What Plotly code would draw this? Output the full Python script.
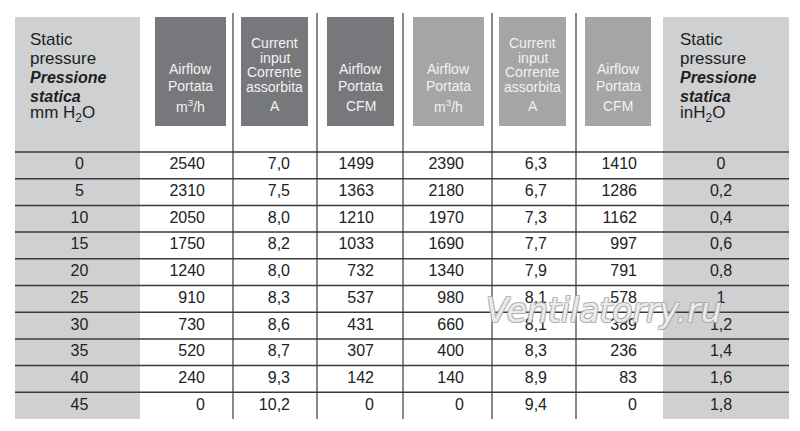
import plotly.graph_objects as go

# Data
pressure_mm = [0, 5, 10, 15, 20, 25, 30, 35, 40, 45]
airflow_m3h_a = [2540, 2310, 2050, 1750, 1240, 910, 730, 520, 240, 0]
current_a = [7.0, 7.5, 8.0, 8.2, 8.0, 8.3, 8.6, 8.7, 9.3, 10.2]
cfm_a = [1499, 1363, 1210, 1033, 732, 537, 431, 307, 142, 0]
airflow_m3h_b = [2390, 2180, 1970, 1690, 1340, 980, 660, 400, 140, 0]
current_b = [6.3, 6.7, 7.3, 7.7, 7.9, 8.1, 8.1, 8.3, 8.9, 9.4]
cfm_b = [1410, 1286, 1162, 997, 791, 578, 389, 236, 83, 0]
pressure_in = [0, 0.2, 0.4, 0.6, 0.8, 1, 1.2, 1.4, 1.6, 1.8]

box_headers = [
    (["Airflow", "Portata"], "m<sup>3</sup>/h"),
    (["Current", "input", "Corrente", "assorbita"], "A"),
    (["Airflow", "Portata"], "CFM"),
    (["Airflow", "Portata"], "m<sup>3</sup>/h"),
    (["Current", "input", "Corrente", "assorbita"], "A"),
    (["Airflow", "Portata"], "CFM"),
]
side_header_left = ["Static", "pressure", "<b><i>Pressione</i></b>", "<b><i>statica</i></b>", "mm H<sub>2</sub>O"]
side_header_right = ["Static", "pressure", "<b><i>Pressione</i></b>", "<b><i>statica</i></b>", "inH<sub>2</sub>O"]


def comma(v, dec=None):
    s = f"{v:.{dec}f}" if dec is not None else f"{v:g}"
    return s.replace(".", ",")


value_cols = [
    [str(v) for v in airflow_m3h_a],
    [comma(v, 1) for v in current_a],
    [str(v) for v in cfm_a],
    [str(v) for v in airflow_m3h_b],
    [comma(v, 1) for v in current_b],
    [str(v) for v in cfm_b],
]

# Layout (page pixels; page body has an 8px margin)
W, H = 800, 431
PAD = 8
FONT = "Liberation Sans"
table_top, row_h = 152, 26.7
row_y = [table_top + row_h * (i + 0.5) for i in range(len(pressure_mm))]
table_bottom = table_top + row_h * len(pressure_mm)
left_band = (15, 140)
right_band = (663, 789)
box_x = [(155, 226), (241, 308), (327, 394), (413, 484), (499, 566), (585, 651)]
box_colors = ["#77787b"] * 3 + ["#a6a4a5"] * 3
value_right = [205, 290, 374, 464, 547, 637]
vlines = [233, 317, 403, 492, 576]

fig = go.Figure()

shapes = []
for x0, x1 in (left_band, right_band):
    shapes.append(dict(type="rect", x0=x0, x1=x1, y0=17, y1=table_bottom,
                       fillcolor="#cfd0d2", line_width=0, layer="below"))
for (x0, x1), c in zip(box_x, box_colors):
    shapes.append(dict(type="rect", x0=x0, x1=x1, y0=17, y1=126,
                       fillcolor=c, line_width=0, layer="below"))
for i, x in enumerate(vlines):
    shapes.append(dict(type="line", x0=x, x1=x, y0=13, y1=table_bottom,
                       line=dict(color="#8a8a8a" if i == 2 else "#3a3a3a",
                                 width=2 if i == 2 else 1.2)))
for k in range(len(pressure_mm)):
    y = table_top + row_h * k
    shapes.append(dict(type="line", x0=left_band[0], x1=right_band[1], y0=y, y1=y,
                       line=dict(color="#3a3a3a", width=1.5)))

# Values
fig.add_trace(go.Scatter(
    x=[(left_band[0] + left_band[1]) / 2 + 2] * len(pressure_mm), y=row_y,
    mode="text", text=[str(v) for v in pressure_mm], textposition="middle center",
    textfont=dict(family=FONT, size=16, color="#222"), showlegend=False, hoverinfo="skip"))
for col, xr in zip(value_cols, value_right):
    fig.add_trace(go.Scatter(
        x=[xr] * len(col), y=row_y, mode="text", text=col, textposition="middle left",
        textfont=dict(family=FONT, size=16, color="#222"), showlegend=False, hoverinfo="skip"))
fig.add_trace(go.Scatter(
    x=[(right_band[0] + right_band[1]) / 2 - 5] * len(pressure_in), y=row_y,
    mode="text", text=[comma(v) for v in pressure_in], textposition="middle center",
    textfont=dict(family=FONT, size=16, color="#222"), showlegend=False, hoverinfo="skip"))

annotations = []
# Box headers
for (x0, x1), (lines, unit) in zip(box_x, box_headers):
    cx = (x0 + x1) / 2
    ys = [69, 86] if len(lines) == 2 else [43, 57.5, 72, 86.5]
    for t, y in zip(lines, ys):
        annotations.append(dict(x=cx, y=y, text=t, showarrow=False, xanchor="center",
                                yanchor="middle", font=dict(family=FONT, size=14, color="#f2f2f2")))
    annotations.append(dict(x=cx, y=106, text=unit, showarrow=False, xanchor="center",
                            yanchor="middle", font=dict(family=FONT, size=14, color="#f2f2f2")))

# Side headers
side_y = [39, 58, 77, 96, 114]
for lines, x in ((side_header_left, 28), (side_header_right, 678)):
    for t, y in zip(lines, side_y):
        annotations.append(dict(x=x, y=y, text=t, showarrow=False, xanchor="left",
                                yanchor="middle",
                                font=dict(family=FONT, size=16 if "<i>" in t else 17,
                                          color="#1e1e1e")))

# Watermark
annotations.append(dict(x=604, y=310, text="<i>Ventilatorry.ru</i>", showarrow=False,
                        xanchor="center", yanchor="middle",
                        font=dict(family="DejaVu Sans", size=33, color="rgba(255,255,255,0.8)",
                                  shadow="-1px -1px 0 #a8a8a8, 1px -1px 0 #a8a8a8, "
                                         "-1px 1px 0 #a8a8a8, 1px 1px 0 #a8a8a8")))

fig.update_layout(
    width=W, height=H, margin=dict(l=0, r=0, t=0, b=0),
    paper_bgcolor="white", plot_bgcolor="white",
    xaxis=dict(range=[PAD, W + PAD], visible=False, fixedrange=True),
    yaxis=dict(range=[H + PAD, PAD], visible=False, fixedrange=True),
    shapes=shapes, annotations=annotations,
)

fig.write_html("out.html")
